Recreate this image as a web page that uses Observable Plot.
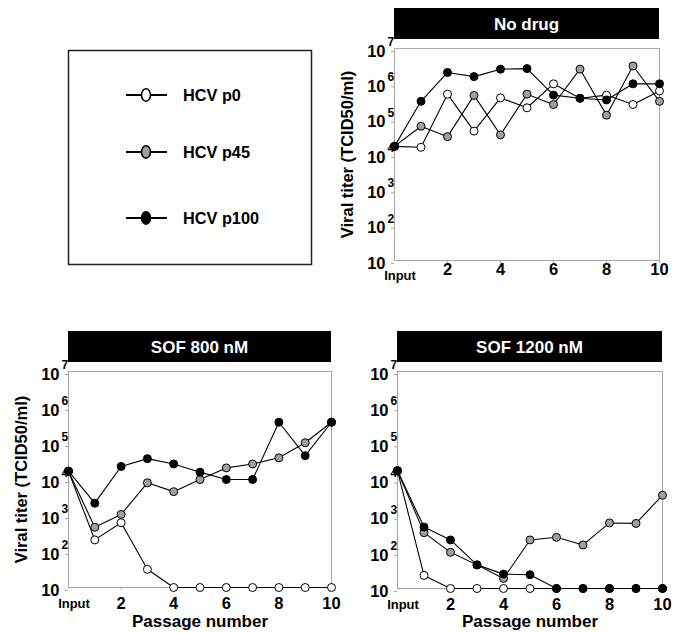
<!DOCTYPE html>
<html><head><meta charset="utf-8">
<script src="https://cdn.jsdelivr.net/npm/d3@7"></script>
<script src="https://cdn.jsdelivr.net/npm/@observablehq/plot@0.6"></script>
<style>
body{margin:0;background:#fff;font-family:"Liberation Sans",Arial,sans-serif;}
#wrap{position:relative;width:680px;height:633px;overflow:hidden;background:#fff;}
.bar{position:absolute;background:#000;color:#fff;font-weight:bold;font-size:17px;display:flex;align-items:center;justify-content:center;padding-top:2px;box-sizing:border-box;}
.panel{position:absolute;}
</style></head><body><div id="wrap"></div>
<script>
// ---- data ----
const passages = [0, 1, 2, 3, 4, 5, 6, 7, 8, 9, 10];
const seriesNames = ["HCV p0", "HCV p45", "HCV p100"];
const seriesFill = ["#ffffff", "#a0a0a0", "#000000"];
const yTicks = [1e1, 1e2, 1e3, 1e4, 1e5, 1e6, 1e7];
const xTicks = [2, 4, 6, 8, 10];
const xInputLabel = "Input";
const panelTitles = ["No drug", "SOF 800 nM", "SOF 1200 nM"];
const yTitle = "Viral titer (TCID50/ml)";
const xTitle = "Passage number";

const noDrugP0   = [1.7e4, 1.6e4, 5.1e5, 4.6e4, 4.0e5, 2.1e5, 1.0e6, 3.9e5, 4.8e5, 2.6e5, 6.3e5];
const noDrugP45  = [1.7e4, 6.3e4, 3.2e4, 4.7e5, 3.6e4, 5.1e5, 2.6e5, 2.6e6, 1.3e5, 3.2e6, 3.2e5];
const noDrugP100 = [1.7e4, 3.2e5, 2.1e6, 1.6e6, 2.6e6, 2.7e6, 4.8e5, 3.9e5, 3.5e5, 1.0e6, 1.0e6];

const sof800P0   = [1.7e4, 210, 630, 32, 10, 10, 10, 10, 10, 10, 10];
const sof800P45  = [1.7e4, 470, 1070, 8100, 4600, 1.0e4, 2.1e4, 2.7e4, 4.0e4, 1.05e5, 3.9e5];
const sof800P100 = [1.7e4, 2200, 2.3e4, 3.8e4, 2.7e4, 1.6e4, 1.0e4, 1.0e4, 3.9e5, 4.6e4, 3.9e5];

const sof1200P0   = [1.8e4, 23, 10, 10, 10, 10, 10, 10, 10, 10, 10];
const sof1200P45  = [1.8e4, 350, 100, 45, 19, 220, 260, 160, 650, 630, 3800];
const sof1200P100 = [1.8e4, 500, 220, 45, 25, 24, 10, 10, 10, 10, 10];

// ---- drawing ----
const wrap = document.getElementById("wrap");
const FONT = "'Liberation Sans', Arial, sans-serif";

function addBar(text, x, y, w, h) {
  const d = document.createElement("div");
  d.className = "bar";
  Object.assign(d.style, {left: x + "px", top: y + "px", width: w + "px", height: h + "px"});
  d.textContent = text;
  wrap.appendChild(d);
}

function panel(cfg) {
  const rows = [];
  cfg.data.forEach((vals, s) => vals.forEach((v, i) => rows.push({series: seriesNames[s], x: passages[i], y: v})));
  const marks = [
    Plot.frame({stroke: "#a6a6a6"}),
    Plot.axisY({ticks: yTicks, tickSize: 3, tickPadding: 6, stroke: "#a6a6a6", fill: "#000",
      tickFormat: () => "10", fontSize: 16.5, dy: 3, label: null}),
    Plot.axisY({ticks: yTicks, tickSize: 0, tickPadding: 0, textAnchor: "start", fill: "#000",
      tickFormat: d => d > 10 ? String(Math.round(Math.log10(d))) : "", fontSize: 12, dx: -7, dy: -6.5, label: null}),
    Plot.axisX({ticks: xTicks, tickSize: 3, tickPadding: cfg.xPad, stroke: "#a6a6a6", fill: "#000",
      fontSize: 16.5, label: null}),
    Plot.axisX({ticks: [passages[0]], tickSize: 0, tickPadding: cfg.inPad, fill: "#000",
      tickFormat: () => xInputLabel, fontSize: 13, dx: 5.5, label: null}),
    Plot.line(rows, {x: "x", y: "y", z: "series", stroke: "#000", strokeWidth: 1.1}),
    Plot.dot(rows, {x: "x", y: "y", fill: "series", stroke: "#000", strokeWidth: 1, r: 4})
  ];
  if (cfg.yTitle) marks.push(Plot.text([yTitle], {text: d => d, frameAnchor: "left", textAnchor: "middle",
    lineAnchor: "middle", rotate: -90, dx: -47, fontSize: 16.5, fill: "#000"}));
  if (cfg.xTitle) marks.push(Plot.text([xTitle], {text: d => d, frameAnchor: "bottom", textAnchor: "middle",
    lineAnchor: "middle", dy: cfg.xTitleDy, fontSize: 17, fill: "#000"}));
  const svg = Plot.plot({
    width: cfg.width, height: cfg.height,
    marginLeft: cfg.ml, marginRight: cfg.mr, marginTop: cfg.mt, marginBottom: cfg.mb,
    x: {domain: [0, 10]},
    y: {type: "log", domain: [10, 1e7]},
    color: {domain: seriesNames, range: seriesFill},
    style: {fontFamily: FONT, fontWeight: "bold", background: "transparent", overflow: "visible"},
    marks
  });
  const div = document.createElement("div");
  div.className = "panel";
  Object.assign(div.style, {left: cfg.left + "px", top: cfg.top + "px", width: cfg.width + "px", height: cfg.height + "px"});
  div.appendChild(svg);
  wrap.appendChild(div);
}

// Legend
(function legend() {
  const svg = d3.create("svg").attr("width", 340).attr("height", 300)
    .style("position", "absolute").style("left", "0px").style("top", "0px");
  svg.append("rect").attr("x", 68.5).attr("y", 50.5).attr("width", 243).attr("height", 214)
    .attr("fill", "none").attr("stroke", "#222").attr("stroke-width", 1.5);
  const rowsY = [95, 152, 218];
  seriesNames.forEach((name, i) => {
    const g = svg.append("g").attr("transform", `translate(0,${rowsY[i]})`);
    g.append("line").attr("x1", 126).attr("x2", 167).attr("stroke", "#000").attr("stroke-width", 2);
    g.append("ellipse").attr("cx", 146).attr("rx", 4.5).attr("ry", 6.2)
      .attr("fill", seriesFill[i]).attr("stroke", "#000").attr("stroke-width", 1.6);
    g.append("text").attr("x", 183).attr("y", 6).text(name)
      .attr("font-family", FONT).attr("font-weight", "bold").attr("font-size", 16.3).attr("fill", "#000");
  });
  wrap.appendChild(svg.node());
})();

addBar(panelTitles[0], 394, 8, 265, 31);
addBar(panelTitles[1], 68, 331, 263, 31);
addBar(panelTitles[2], 397, 331, 265, 31);

panel({data: [noDrugP0, noDrugP45, noDrugP100], left: 330, top: 40, width: 340, height: 250,
  ml: 64, mr: 11, mt: 8, mb: 30, xPad: 0, inPad: 10, yTitle: true, xTitle: false});
panel({data: [sof800P0, sof800P45, sof800P100], left: 0, top: 363, width: 340, height: 270,
  ml: 68, mr: 9, mt: 8, mb: 46, xPad: 7, inPad: 11, yTitle: true, xTitle: true, xTitleDy: 34});
panel({data: [sof1200P0, sof1200P45, sof1200P100], left: 340, top: 363, width: 340, height: 270,
  ml: 57, mr: 18, mt: 8, mb: 45, xPad: 7, inPad: 11, yTitle: false, xTitle: true, xTitleDy: 33});
</script></body></html>
